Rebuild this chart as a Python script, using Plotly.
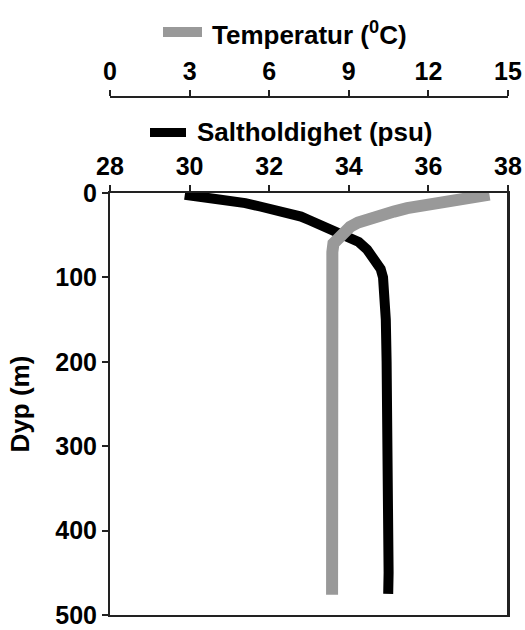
import plotly.graph_objects as go

# Temperature profile (degC) against depth (m)
temp_depth = [2, 6, 10, 14, 18, 22, 26, 30, 35, 40, 45, 50, 55, 60, 70, 80,
              100, 130, 170, 200, 250, 300, 350, 400, 450, 476]
temperature = [14.3, 13.4, 12.6, 11.8, 11.2, 10.7, 10.2, 9.7, 9.35, 9.05, 8.85,
               8.67, 8.52, 8.42, 8.38, 8.38, 8.44, 8.46, 8.44, 8.38, 8.4, 8.38,
               8.38, 8.37, 8.37, 8.37]

# Salinity profile (psu) against depth (m)
sal_depth = [2, 5, 8, 12, 16, 20, 24, 28, 32, 37, 42, 46, 53, 58, 67, 76, 90,
             100, 123, 150, 200, 265, 300, 350, 400, 450, 475]
salinity = [29.88, 30.5, 31.0, 31.4, 31.77, 32.15, 32.52, 32.8, 33.0, 33.25,
            33.45, 33.8, 34.1, 34.25, 34.46, 34.62, 34.8, 34.86, 34.92, 34.93,
            34.95, 34.97, 35.0, 35.0, 35.0, 35.0, 34.99]

temp_ticks = [0, 3, 6, 9, 12, 15]
sal_ticks = [28, 30, 32, 34, 36, 38]
depth_ticks = [0, 100, 200, 300, 400, 500]

TEMP_COLOR = "#999999"
SAL_COLOR = "#000000"
FAMILY = "Liberation Sans, Arial, sans-serif"
TICK_FONT = dict(family=FAMILY, size=25, color="#000000", weight="bold")
TEXT_FONT = dict(family=FAMILY, size=26, color="#000000", weight="bold")
AXIS_COLOR = "#222222"

fig = go.Figure()

fig.add_trace(go.Scatter(
    x=salinity, y=sal_depth, mode="lines", xaxis="x", yaxis="y",
    line=dict(color=SAL_COLOR, width=10), name="Saltholdighet (psu)",
    showlegend=False,
))
fig.add_trace(go.Scatter(
    x=temperature, y=temp_depth, mode="lines", xaxis="x2", yaxis="y",
    line=dict(color=TEMP_COLOR, width=12), name="Temperatur (0C)",
    showlegend=False,
))

W, H = 525, 630
ML, MR, MT, MB = 110, 17, 97, 15
plot_top = 193
paper_h = H - MT - MB
paper_w = W - ML - MR
y_top = (H - MB - plot_top) / paper_h


def px(xp):
    return (xp - ML) / paper_w


def py(yp):
    return (H - MB - yp) / paper_h


axis_common = dict(
    showgrid=False, zeroline=False, showline=True, linecolor=AXIS_COLOR,
    linewidth=2, ticks="outside", ticklen=6, tickwidth=2, tickcolor=AXIS_COLOR,
    tickfont=TICK_FONT, automargin=False,
)

fig.update_layout(
    template="none",
    width=W, height=H,
    margin=dict(l=ML, r=MR, t=MT, b=MB, pad=0),
    paper_bgcolor="white", plot_bgcolor="white",
    showlegend=False,
    xaxis=dict(
        range=[28, 38], tickvals=sal_ticks, side="top", anchor="y",
        mirror=True, **axis_common,
    ),
    xaxis2=dict(
        range=[0, 15], tickvals=temp_ticks, side="top", anchor="free",
        position=1, overlaying="x", **axis_common,
    ),
    yaxis=dict(
        range=[500, 0], tickvals=depth_ticks, domain=[0, y_top], mirror=True,
        title=dict(text="Dyp (m)", font=TEXT_FONT, standoff=18),
        **axis_common,
    ),
)

# Right-hand edge of the plot frame
fig.add_shape(type="line", xref="paper", yref="paper",
              x0=1, x1=1, y0=0, y1=y_top,
              line=dict(color=AXIS_COLOR, width=2))

# Series keys above each axis
fig.add_shape(type="rect", xref="paper", yref="paper",
              x0=px(163), x1=px(202), y0=py(37), y1=py(27),
              fillcolor=TEMP_COLOR, line=dict(width=0))
fig.add_annotation(xref="paper", yref="paper", x=px(210), y=py(33),
                   xanchor="left", yanchor="middle", showarrow=False,
                   text="Temperatur (<sup>0</sup>C)", font=TEXT_FONT)
fig.add_shape(type="rect", xref="paper", yref="paper",
              x0=px(150), x1=px(186), y0=py(137), y1=py(128),
              fillcolor=SAL_COLOR, line=dict(width=0))
fig.add_annotation(xref="paper", yref="paper", x=px(195), y=py(132),
                   xanchor="left", yanchor="middle", showarrow=False,
                   text="Saltholdighet (psu)", font=TEXT_FONT)

fig.write_html("out.html")
